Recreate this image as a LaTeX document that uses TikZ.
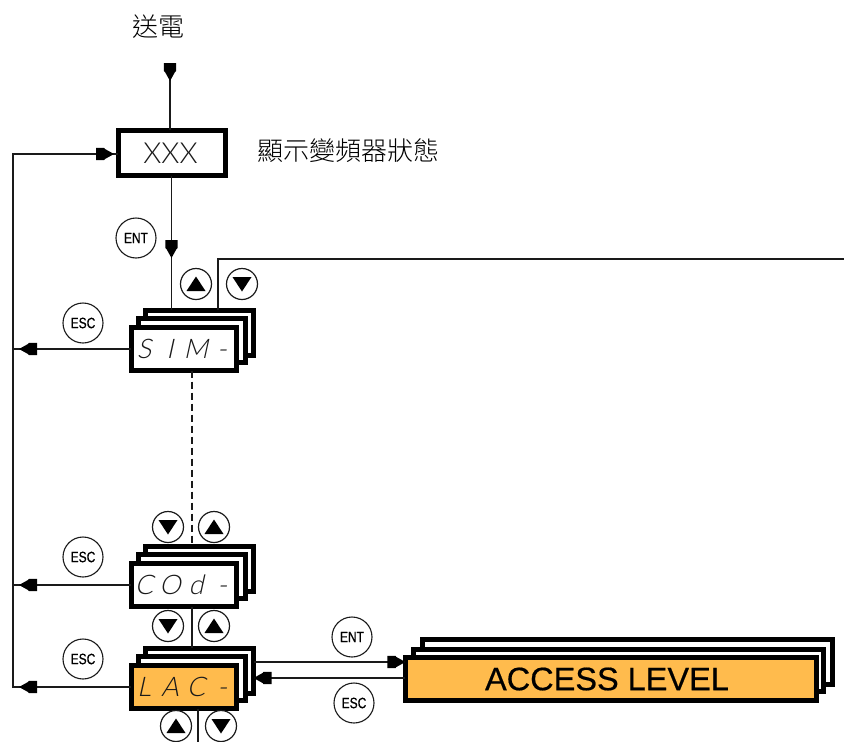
\documentclass[tikz,border=0pt]{standalone}
\usepackage{fontspec}
\setmainfont{Liberation Sans}
\newfontfamily\cjk{Noto Sans CJK TC Light}
\newfontfamily\seg[FakeSlant=0.22]{Lato Light}
\newfontfamily\xfont{Lato Light}
\newfontfamily\heavy[FakeBold=0.5]{Liberation Sans}
\usetikzlibrary{calc}
\definecolor{ink}{HTML}{1A1A1A}
\definecolor{amber}{HTML}{FFBB4D}
\tikzset{
  wire/.style={draw=ink,line width=1.4pt},
  dashwire/.style={wire,dash pattern=on 7pt off 4pt},
  panel/.style={draw=black,line width=4.8pt,fill=white,inner sep=0pt,outer sep=0pt,rectangle},
  keyring/.style={circle,draw=ink,line width=1.1pt,fill=white,minimum size=40pt,inner sep=0pt},
  arrowring/.style={circle,draw=ink,line width=1.2pt,fill=white,minimum size=31pt,inner sep=0pt},
  captext/.style={font=\cjk\fontsize{26}{26}\selectfont,inner sep=0pt},
}
\newcommand{\keytxt}[1]{\scalebox{.8}[1]{\heavy\fontsize{15}{15}\selectfont #1}}
\newcommand{\segs}[4]{{\seg\fontsize{27}{27}\selectfont\color{ink}\makebox[26pt]{#1}\makebox[26pt]{#2}\makebox[26pt]{#3}\makebox[26pt]{#4}}}
% arrowhead: tip at a point, turned by an angle
\newcommand{\headat}[2]{\fill[black,shift={#1},rotate=#2] (0,0) -- (-9,5) -- (-10,6.2) -- (-18,6.2) -- (-18,-6.2) -- (-10,-6.2) -- (-9,-5) -- cycle;}
% name, top y, fill, text
\newcommand{\dispstack}[4]{%
  \node[panel,minimum width=108.2pt,minimum height=45.2pt] (#1-b) at (199.5,#2+25) {};
  \node[panel,minimum width=107.2pt,minimum height=44.2pt] (#1-m) at (192,#2+32.5) {};
  \node[panel,fill=#3,minimum width=105.2pt,minimum height=43.2pt] (#1) at (184,#2+41) {\hspace*{-2pt}#4};
}
\newcommand{\upbtn}[3]{\node[arrowring] (#1) at (#2,#3) {};
  \fill[black] ($(#1)+(-9.5,7)$) -- ($(#1)+(9.5,7)$) -- ($(#1)+(0,-7.5)$) -- cycle;}
\newcommand{\dnbtn}[3]{\node[arrowring] (#1) at (#2,#3) {};
  \fill[black] ($(#1)+(-9.5,-7)$) -- ($(#1)+(9.5,-7)$) -- ($(#1)+(0,7.5)$) -- cycle;}
\begin{document}
\begin{tikzpicture}[x=1pt,y=-1pt]
\useasboundingbox (0,0) rectangle (844,742);

% captions
\node[captext] (power) at (158,27) {送電};
\node[captext,anchor=west] (status) at (257,151) {顯示變頻器狀態};

% coordinates for arrows and free ends
\coordinate (topin) at (170,63);
\coordinate (tophead) at (170,81);
\coordinate (railtop) at (13,154);
\coordinate (railbot) at (13,688);
\coordinate (enthead) at (171.5,258);
\coordinate (eastend) at (844,259);
\coordinate (corner) at (218,259);
\coordinate (botend) at (198,742);
\coordinate (xxxhead) at (114,154);

% boxes
\node[panel,minimum width=107.2pt,minimum height=45.2pt,font=\xfont\fontsize{29}{29}\selectfont,text=ink] (xxx) at (172,153) {\hspace*{-3pt}XXX};
\dispstack{sim}{308}{white}{\segs{S}{I}{M}{-}}
\dispstack{cod}{544}{white}{\segs{C}{O}{d}{-}}
\dispstack{lac}{646}{amber}{\segs{L}{A}{C}{-}}
\node[panel,minimum width=410.2pt,minimum height=45.2pt] (acc-b) at (627.5,662) {};
\node[panel,minimum width=410.2pt,minimum height=42.2pt] (acc-m) at (618.5,670.5) {};
\node[panel,fill=amber,minimum width=411.2pt,minimum height=43.2pt,font=\heavy\fontsize{32.5}{33}\selectfont] (acc) at (611,679) {\hspace*{-8pt}ACCESS LEVEL};

% connectors
\draw[wire] (topin) -- (topin |- xxx.north);
\headat{(tophead)}{-90}
\draw[wire] (xxx.south -| enthead) -- (enthead |- sim-b.north);
\headat{(enthead)}{-90}
\draw[wire] (corner |- sim-b.north) -- (corner) -- (eastend);
\draw[dashwire] (sim.south -| cod-m.north) -- (cod-m.north |- cod-b.north);
\draw[wire] (cod.south -| cod-m.north) -- (cod-m.north |- lac-b.north);
\draw[wire] (lac.south -| botend) -- (botend);

% left rail
\draw[wire] (railbot) -- (railtop) -- (xxx.west |- railtop);
\headat{(xxxhead)}{0}
\foreach \n in {sim,cod,lac}{
  \draw[wire] (\n.west) -- (\n.west -| railtop);
  \coordinate (\n-tip) at (\n.west -| 19,0);
  \headat{(\n-tip)}{180}
}
\coordinate (accin) at (acc.west |- 0,662);
\coordinate (accout) at (lac-b.east |- 0,678);
\draw[wire] (lac-b.east |- accin) -- (accin);
\headat{(accin)}{0}
\draw[wire] (acc.west |- accout) -- (accout);
\headat{(accout)}{180}

% keys
\node[keyring] (ent1) at (136,238) {\keytxt{ENT}};
\node[keyring] (esc1) at (83,323) {\keytxt{ESC}};
\node[keyring] (esc2) at (83,557) {\keytxt{ESC}};
\node[keyring] (esc3) at (83,659) {\keytxt{ESC}};
\node[keyring] (ent2) at (352,637) {\keytxt{ENT}};
\node[keyring] (esc4) at (354,703) {\keytxt{ESC}};
\upbtn{u1}{196}{284}
\dnbtn{d1}{242}{284}
\dnbtn{d2}{168}{527}
\upbtn{u2}{214}{527}
\dnbtn{d3}{168}{626}
\upbtn{u3}{214}{626}
\upbtn{u4}{176}{726}
\dnbtn{d4}{221}{726}
\end{tikzpicture}
\end{document}
